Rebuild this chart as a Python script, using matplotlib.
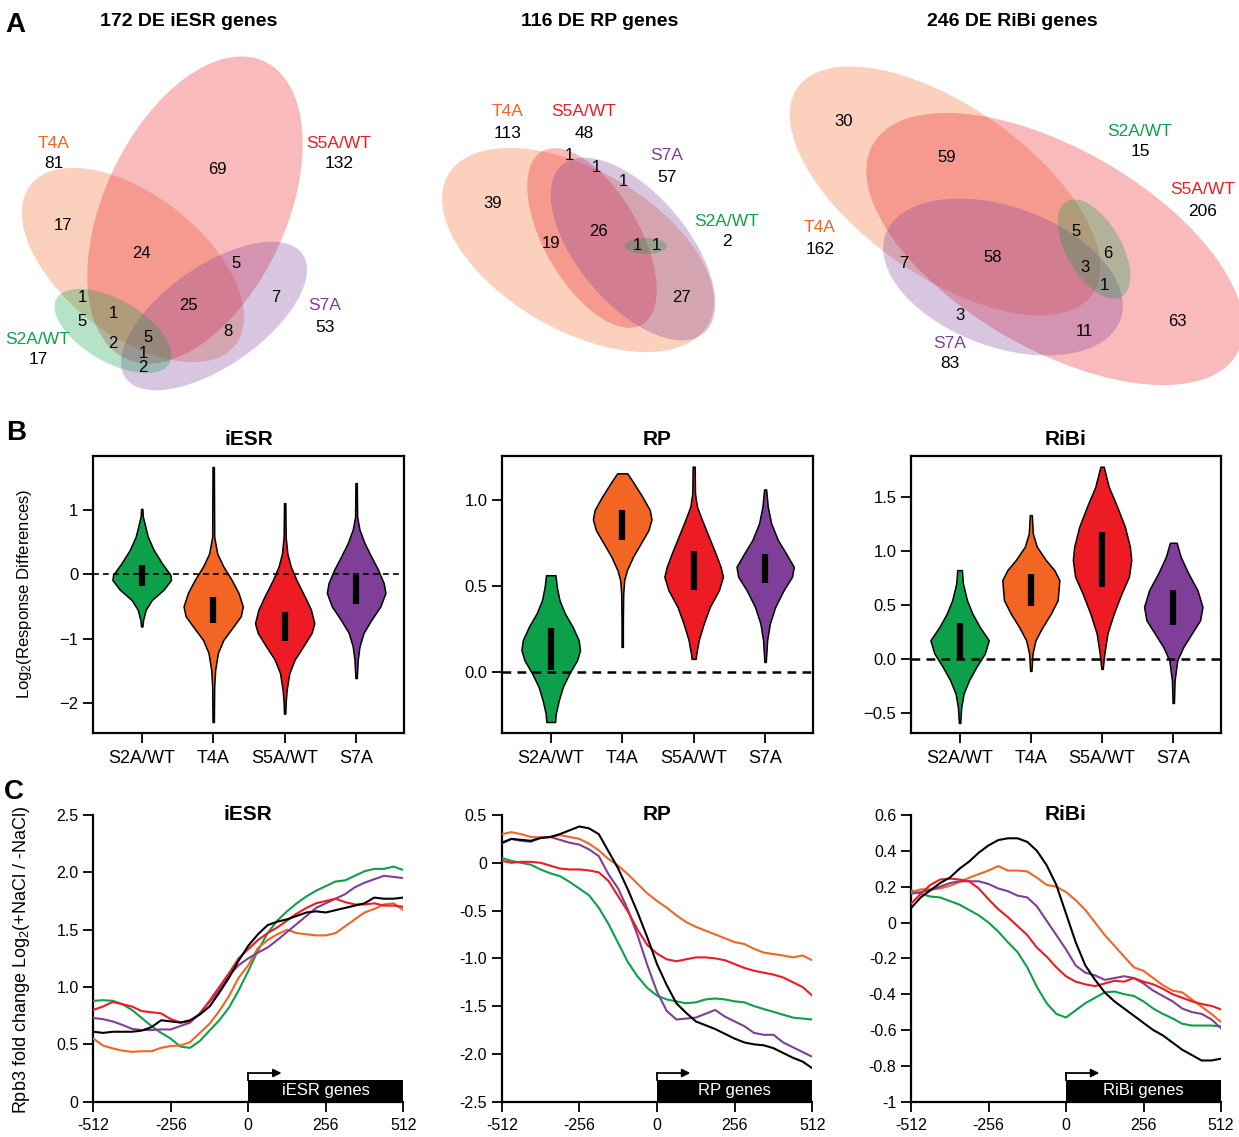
import numpy as np
import matplotlib
matplotlib.use("Agg")
import matplotlib.pyplot as plt
from matplotlib.patches import Ellipse, Rectangle
from matplotlib import transforms

plt.rcParams['font.family'] = ['Liberation Sans', 'DejaVu Sans']
plt.rcParams['mathtext.fontset'] = 'custom'
plt.rcParams['mathtext.rm'] = 'Liberation Sans'
plt.rcParams['mathtext.it'] = 'Liberation Sans:italic'

W, H = 1239, 1137

# ================================
# Data
# ================================
MUTANTS = ["S2A/WT", "T4A", "S5A/WT", "S7A"]
COLORS = {"S2A/WT": "#0DA04A", "T4A": "#F26522", "S5A/WT": "#ED1C24", "S7A": "#7F3F98"}
GENE_SETS = ["iESR", "RP", "RiBi"]

# ---- A: Venn counts
venn_titles = ["172 DE iESR genes", "116 DE RP genes", "246 DE RiBi genes"]
iesr_totals = {"T4A": 81, "S5A/WT": 132, "S7A": 53, "S2A/WT": 17}
rp_totals = {"T4A": 113, "S5A/WT": 48, "S7A": 57, "S2A/WT": 2}
ribi_totals = {"T4A": 162, "S5A/WT": 206, "S7A": 83, "S2A/WT": 15}
iesr_regions = [69, 17, 24, 5, 7, 25, 8, 1, 5, 1, 2, 5, 1, 2]
rp_regions = [1, 1, 1, 39, 19, 26, 1, 1, 27]
ribi_regions = [30, 59, 5, 6, 7, 58, 3, 1, 3, 11, 63]

# ---- B: violin outlines (value, relative half-width) + IQR
iesr_viol_y = {
    "S2A/WT": [1.01, 0.90, 0.79, 0.58, 0.38, 0.17, -0.01, -0.09, -0.24, -0.40, -0.55, -0.71, -0.81],
    "T4A": [1.66, 0.58, 0.32, 0.12, -0.09, -0.29, -0.50, -0.65, -0.81, -1.02, -1.22, -1.48, -1.74, -2.29],
    "S5A/WT": [1.10, 0.58, 0.32, 0.12, -0.09, -0.35, -0.55, -0.76, -0.91, -1.12, -1.32, -1.53, -1.79, -1.99, -2.16],
    "S7A": [1.41, 0.89, 0.69, 0.48, 0.27, 0.07, -0.14, -0.29, -0.50, -0.71, -0.91, -1.12, -1.32, -1.61],
}
iesr_viol_d = {
    "S2A/WT": [2, 3, 8, 18, 35, 60, 85, 87, 65, 30, 12, 4, 2],
    "T4A": [2, 3, 12, 30, 55, 75, 88, 82, 60, 30, 14, 6, 3, 2],
    "S5A/WT": [2, 3, 8, 18, 35, 60, 78, 88, 80, 55, 30, 14, 6, 3, 2],
    "S7A": [2, 3, 10, 25, 45, 65, 82, 87, 72, 45, 22, 10, 5, 2],
}
iesr_iqr = {"S2A/WT": (-0.19, 0.14), "T4A": (-0.75, -0.36), "S5A/WT": (-1.04, -0.59), "S7A": (-0.46, -0.01)}

rp_viol_y = {
    "S2A/WT": [0.562, 0.494, 0.416, 0.339, 0.261, 0.183, 0.125, 0.066, -0.012, -0.089, -0.167, -0.245, -0.294],
    "T4A": [1.156, 1.097, 1.019, 0.942, 0.887, 0.825, 0.747, 0.669, 0.591, 0.533, 0.455, 0.30, 0.144],
    "S5A/WT": [1.195, 1.039, 0.961, 0.883, 0.786, 0.689, 0.611, 0.553, 0.475, 0.377, 0.280, 0.183, 0.105, 0.074],
    "S7A": [1.062, 0.961, 0.864, 0.767, 0.689, 0.611, 0.553, 0.475, 0.377, 0.280, 0.183, 0.056],
}
rp_viol_d = {
    "S2A/WT": [14, 18, 26, 42, 65, 83, 87, 78, 55, 36, 24, 15, 13],
    "T4A": [15, 35, 60, 82, 87, 78, 55, 32, 14, 6, 3, 2, 2],
    "S5A/WT": [3, 4, 10, 25, 45, 65, 80, 87, 75, 48, 30, 15, 8, 6],
    "S7A": [3, 8, 18, 38, 62, 85, 80, 55, 30, 14, 6, 2],
}
rp_iqr = {"S2A/WT": (0.012, 0.257), "T4A": (0.770, 0.942), "S5A/WT": (0.475, 0.704), "S7A": (0.514, 0.683)}

ribi_viol_y = {
    "S2A/WT": [0.822, 0.698, 0.545, 0.422, 0.298, 0.175, 0.052, -0.071, -0.194, -0.317, -0.44, -0.588],
    "T4A": [1.329, 1.16, 1.037, 0.914, 0.822, 0.729, 0.545, 0.422, 0.298, 0.175, 0.052, -0.108],
    "S5A/WT": [1.775, 1.59, 1.406, 1.222, 1.037, 0.914, 0.76, 0.606, 0.422, 0.237, 0.052, -0.089],
    "S7A": [1.074, 0.945, 0.791, 0.637, 0.483, 0.36, 0.237, 0.114, -0.009, -0.194, -0.403],
}
ribi_viol_d = {
    "S2A/WT": [7, 10, 22, 38, 60, 87, 75, 50, 28, 12, 5, 2],
    "T4A": [3, 6, 18, 45, 70, 85, 80, 60, 35, 14, 5, 2],
    "S5A/WT": [5, 20, 45, 68, 83, 87, 80, 58, 35, 16, 7, 2],
    "S7A": [10, 22, 45, 72, 87, 80, 55, 30, 12, 4, 2],
}
ribi_iqr = {"S2A/WT": (0.006, 0.33), "T4A": (0.49, 0.785), "S5A/WT": (0.668, 1.175), "S7A": (0.314, 0.637)}

# ---- C: metagene profiles, one value every 32 bp from -512 to 512
POS = np.arange(-512, 513, 32)
iesr_prof = {
    "black": [0.61, 0.60, 0.61, 0.61, 0.61, 0.62, 0.65, 0.71, 0.70, 0.69, 0.71, 0.76, 0.83, 0.95, 1.08, 1.23, 1.36,
              1.46, 1.54, 1.57, 1.59, 1.62, 1.65, 1.66, 1.65, 1.67, 1.69, 1.71, 1.73, 1.78, 1.77, 1.77, 1.78],
    "green": [0.88, 0.885, 0.88, 0.85, 0.80, 0.73, 0.66, 0.60, 0.55, 0.48, 0.47, 0.53, 0.62, 0.71, 0.82, 0.97, 1.14,
              1.32, 1.47, 1.58, 1.66, 1.73, 1.79, 1.84, 1.88, 1.92, 1.93, 1.97, 2.01, 2.03, 2.03, 2.05, 2.02],
    "red": [0.80, 0.83, 0.87, 0.85, 0.83, 0.79, 0.78, 0.77, 0.72, 0.69, 0.70, 0.77, 0.88, 1.00, 1.12, 1.25, 1.33,
            1.41, 1.47, 1.52, 1.58, 1.64, 1.69, 1.73, 1.75, 1.77, 1.74, 1.72, 1.72, 1.73, 1.71, 1.71, 1.70],
    "purple": [0.73, 0.72, 0.70, 0.67, 0.635, 0.625, 0.625, 0.63, 0.63, 0.66, 0.69, 0.77, 0.87, 0.97, 1.10, 1.19, 1.25,
               1.30, 1.345, 1.41, 1.48, 1.55, 1.62, 1.69, 1.73, 1.77, 1.81, 1.87, 1.91, 1.94, 1.97, 1.96, 1.95],
    "orange": [0.55, 0.49, 0.465, 0.445, 0.435, 0.44, 0.44, 0.47, 0.485, 0.49, 0.52, 0.60, 0.68, 0.79, 0.92, 1.08, 1.19,
               1.34, 1.41, 1.46, 1.50, 1.47, 1.46, 1.45, 1.45, 1.47, 1.53, 1.59, 1.65, 1.68, 1.72, 1.73, 1.67],
}
rp_prof = {
    "black": [0.21, 0.25, 0.24, 0.23, 0.26, 0.27, 0.30, 0.34, 0.38, 0.36, 0.30, 0.12, -0.06, -0.28, -0.52, -0.78, -1.06,
              -1.28, -1.47, -1.57, -1.66, -1.70, -1.74, -1.79, -1.84, -1.88, -1.90, -1.91, -1.94, -1.99, -2.04, -2.08, -2.15],
    "orange": [0.30, 0.32, 0.30, 0.27, 0.265, 0.27, 0.29, 0.27, 0.25, 0.20, 0.13, 0.04, -0.03, -0.12, -0.22, -0.32, -0.40,
               -0.47, -0.55, -0.62, -0.67, -0.71, -0.75, -0.79, -0.83, -0.85, -0.90, -0.94, -0.955, -0.97, -0.99, -0.97, -1.02],
    "purple": [0.20, 0.25, 0.23, 0.22, 0.26, 0.27, 0.24, 0.21, 0.19, 0.14, 0.07, -0.12, -0.27, -0.49, -0.76, -1.07, -1.35,
               -1.55, -1.64, -1.63, -1.62, -1.58, -1.54, -1.61, -1.66, -1.71, -1.78, -1.80, -1.80, -1.88, -1.93, -1.98, -2.03],
    "red": [0.02, 0.00, 0.01, 0.01, 0.00, -0.03, -0.06, -0.07, -0.07, -0.08, -0.10, -0.19, -0.35, -0.51, -0.70, -0.86, -0.95,
            -1.01, -1.03, -1.01, -0.99, -0.99, -1.00, -1.02, -1.06, -1.10, -1.13, -1.15, -1.17, -1.20, -1.25, -1.30, -1.39],
    "green": [0.05, 0.02, 0.00, -0.02, -0.07, -0.11, -0.14, -0.20, -0.27, -0.34, -0.47, -0.64, -0.84, -1.04, -1.19, -1.31, -1.39,
              -1.43, -1.45, -1.47, -1.46, -1.43, -1.42, -1.43, -1.45, -1.46, -1.50, -1.53, -1.56, -1.59, -1.62, -1.63, -1.64],
}
ribi_prof = {
    "black": [0.08, 0.14, 0.18, 0.22, 0.25, 0.30, 0.34, 0.39, 0.43, 0.46, 0.47, 0.47, 0.45, 0.40, 0.32, 0.21, 0.05,
              -0.11, -0.24, -0.32, -0.39, -0.44, -0.48, -0.52, -0.56, -0.60, -0.63, -0.67, -0.71, -0.74, -0.77, -0.77, -0.76],
    "orange": [0.17, 0.185, 0.185, 0.19, 0.205, 0.225, 0.25, 0.27, 0.29, 0.315, 0.29, 0.29, 0.285, 0.25, 0.21, 0.20, 0.17,
               0.125, 0.07, 0.00, -0.07, -0.13, -0.19, -0.25, -0.27, -0.31, -0.35, -0.38, -0.39, -0.43, -0.47, -0.51, -0.555],
    "purple": [0.16, 0.17, 0.18, 0.20, 0.22, 0.23, 0.23, 0.23, 0.215, 0.19, 0.175, 0.15, 0.14, 0.09, 0.01, -0.07, -0.15,
               -0.24, -0.28, -0.295, -0.32, -0.31, -0.30, -0.31, -0.34, -0.38, -0.41, -0.44, -0.48, -0.50, -0.51, -0.54, -0.59],
    "red": [0.105, 0.16, 0.21, 0.24, 0.245, 0.24, 0.23, 0.19, 0.13, 0.075, 0.03, -0.02, -0.07, -0.14, -0.19, -0.25, -0.30,
            -0.33, -0.345, -0.355, -0.34, -0.325, -0.33, -0.31, -0.33, -0.345, -0.37, -0.40, -0.42, -0.44, -0.455, -0.465, -0.485],
    "green": [0.18, 0.16, 0.145, 0.14, 0.12, 0.10, 0.07, 0.04, 0.00, -0.05, -0.11, -0.165, -0.25, -0.36, -0.45, -0.51, -0.53,
              -0.49, -0.45, -0.42, -0.39, -0.385, -0.40, -0.41, -0.44, -0.48, -0.51, -0.535, -0.565, -0.575, -0.575, -0.575, -0.58],
}
LINE_COLORS = {"green": "#0DA04A", "orange": "#F26522", "purple": "#7F3F98", "red": "#ED1C24", "black": "black"}

# tick labels
xticks_c = [-512, -256, 0, 256, 512]
xticklabels_c = ["-512", "-256", "0", "256", "512"]
iesr_yticks_c = [0, 0.5, 1.0, 1.5, 2.0, 2.5]
iesr_ylabels_c = ["0", "0.5", "1.0", "1.5", "2.0", "2.5"]
rp_yticks_c = [-2.5, -2.0, -1.5, -1.0, -0.5, 0, 0.5]
rp_ylabels_c = ["-2.5", "-2.0", "-1.5", "-1.0", "-0.5", "0", "0.5"]
ribi_yticks_c = [-1, -0.8, -0.6, -0.4, -0.2, 0, 0.2, 0.4, 0.6]
ribi_ylabels_c = ["-1", "-0.8", "-0.6", "-0.4", "-0.2", "0", "0.2", "0.4", "0.6"]
iesr_yticks_b = [-2, -1, 0, 1]
iesr_ylabels_b = ["\u22122", "\u22121", "0", "1"]
rp_yticks_b = [0.0, 0.5, 1.0]
rp_ylabels_b = ["0.0", "0.5", "1.0"]
ribi_yticks_b = [-0.5, 0.0, 0.5, 1.0, 1.5]
ribi_ylabels_b = ["\u22120.5", "0.0", "0.5", "1.0", "1.5"]

# ================================
# Layout (pixel geometry of the reference)
# ================================
def fx(x):
    return x / W

def fy(y):
    return 1 - y / H

def box(l, r, t, b):
    return [fx(l), fy(b), (r - l) / W, (b - t) / H]

# ellipse geometry per diagram: (cx, cy, width, height, angle), y pointing down
iesr_shapes = {"T4A": (133, 265, 260, 140, 38), "S5A/WT": (195, 210, 328, 182, -65),
               "S7A": (214, 316, 216, 100, -35), "S2A/WT": (113, 331, 130, 62, 30)}
rp_shapes = {"T4A": (578, 250, 300, 160, 30), "S5A/WT": (592, 238, 200, 95, 60),
             "S7A": (633, 249, 220, 110, 50), "S2A/WT": (646, 246, 42, 16, 0)}
ribi_shapes = {"T4A": (945, 191, 360, 170, 35), "S5A/WT": (1055, 249, 420, 200, 30),
               "S7A": (1003, 277, 250, 140, 20), "S2A/WT": (1094, 249, 110, 55, 60)}
iesr_label_xy = {"T4A": (54, 143), "S5A/WT": (339, 143), "S7A": (325, 306), "S2A/WT": (38, 339)}
rp_label_xy = {"T4A": (508, 112), "S5A/WT": (584, 112), "S7A": (667, 156), "S2A/WT": (727, 221)}
ribi_label_xy = {"T4A": (820, 228), "S5A/WT": (1203, 190), "S7A": (950, 343), "S2A/WT": (1140, 131)}
iesr_region_xy = [(217, 169), (63, 225), (141, 254), (236, 263), (276, 297), (188, 306), (228, 332),
                  (82, 297), (82, 321), (113, 314), (113, 343), (148, 337), (143, 353), (143, 367)]
rp_region_xy = [(569, 156), (596, 168), (623, 182), (493, 203), (551, 244), (598, 232), (637, 246),
                (656, 246), (681, 298)]
ribi_region_xy = [(844, 122), (947, 158), (1076, 231), (1108, 253), (904, 264), (993, 258), (1085, 267),
                  (1104, 286), (960, 316), (1084, 331), (1177, 322)]
title_x = [189, 600, 1012]

fig = plt.figure(figsize=(W / 100, H / 100), dpi=100)

# ================================
# A: Venn diagrams
# ================================
axA = fig.add_axes([0, fy(410), 1, 410 / H])
axA.set_xlim(0, W)
axA.set_ylim(410, 0)
axA.axis('off')

venns = [(iesr_shapes, iesr_totals, iesr_label_xy, iesr_regions, iesr_region_xy),
         (rp_shapes, rp_totals, rp_label_xy, rp_regions, rp_region_xy),
         (ribi_shapes, ribi_totals, ribi_label_xy, ribi_regions, ribi_region_xy)]
for k, (shapes, totals, lab_xy, regions, reg_xy) in enumerate(venns):
    for m in ["T4A", "S5A/WT", "S7A", "S2A/WT"]:
        cx, cy, w, h, ang = shapes[m]
        axA.add_patch(Ellipse((cx, cy), w, h, angle=ang, facecolor=COLORS[m], alpha=0.3, lw=0))
    for m in MUTANTS:
        x, y = lab_xy[m]
        axA.text(x, y, m, color=COLORS[m], fontsize=12.5, ha='center', va='center')
        axA.text(x, y + 21, str(totals[m]), color='black', fontsize=12.5, ha='center', va='center')
    for n, (x, y) in zip(regions, reg_xy):
        axA.text(x, y, str(n), fontsize=12, ha='center', va='center')
    axA.text(title_x[k], 22, venn_titles[k], fontsize=14, fontweight='bold', ha='center', va='center')

# ================================
# B: violins
# ================================
b_boxes = [(93, 404), (502, 813), (911, 1221)]
b_ylims = [(-2.46, 1.83), (-0.358, 1.257), (-0.68, 1.874)]
b_ticks = [(iesr_yticks_b, iesr_ylabels_b), (rp_yticks_b, rp_ylabels_b), (ribi_yticks_b, ribi_ylabels_b)]
b_data = [(iesr_viol_y, iesr_viol_d, iesr_iqr), (rp_viol_y, rp_viol_d, rp_iqr), (ribi_viol_y, ribi_viol_d, ribi_iqr)]
dash_lw = [1.2, 1.8, 1.8]

for k, gs in enumerate(GENE_SETS):
    l, r = b_boxes[k]
    ax = fig.add_axes(box(l, r, 456, 733))
    vy, vd, iqr = b_data[k]
    for i, m in enumerate(MUTANTS):
        y = np.array(vy[m])
        w = np.array(vd[m]) / 87 * 0.41
        ax.fill_betweenx(y, i + 1 - w, i + 1 + w, facecolor=COLORS[m], edgecolor='black', lw=1.1, zorder=2)
        ax.vlines(i + 1, iqr[m][0], iqr[m][1], color='black', lw=4.5, zorder=3)
    ax.axhline(0, color='black', lw=dash_lw[k], ls=(0, (3.5, 2.5)), zorder=4)
    ax.set_xlim(0.318, 4.67)
    ax.set_ylim(*b_ylims[k])
    ax.set_xticks(range(1, 5), MUTANTS, fontsize=13)
    ax.set_yticks(b_ticks[k][0], b_ticks[k][1], fontsize=12)
    for s in ax.spines.values():
        s.set_linewidth(1.6)
    ax.tick_params(direction='out', length=7, width=1.3)
    ax.tick_params(axis='x', pad=5)
    ax.set_title(gs, fontsize=15, fontweight='bold', pad=8)

fig.text(fx(25), fy(594), r"Log$_2$(Response Differences)", rotation=90, fontsize=12,
         ha='center', va='center')

# ================================
# C: metagene profiles
# ================================
c_boxes = [(93.3, 403.3), (501.7, 812.3), (911, 1221)]
c_ylims = [(0, 2.5), (-2.5, 0.5), (-1, 0.6)]
c_ticks = [(iesr_yticks_c, iesr_ylabels_c), (rp_yticks_c, rp_ylabels_c), (ribi_yticks_c, ribi_ylabels_c)]
c_data = [iesr_prof, rp_prof, ribi_prof]
line_order = ["green", "orange", "purple", "red", "black"]

for k, gs in enumerate(GENE_SETS):
    l, r = c_boxes[k]
    ax = fig.add_axes(box(l, r, 815, 1101.7))
    for name in line_order:
        ax.plot(POS, c_data[k][name], color=LINE_COLORS[name], lw=1.5, zorder=3)
    ax.set_xlim(-512, 512)
    ax.set_ylim(*c_ylims[k])
    ax.set_xticks(xticks_c, xticklabels_c, fontsize=11.5)
    ax.set_yticks(c_ticks[k][0], c_ticks[k][1], fontsize=11.5)
    ax.spines['top'].set_visible(False)
    ax.spines['right'].set_visible(False)
    for s in ('left', 'bottom'):
        ax.spines[s].set_linewidth(1.6)
    ax.tick_params(direction='out', length=7, width=1.3)
    ax.tick_params(axis='x', pad=5)
    ax.text(0.5, 1.0, gs, transform=ax.transAxes, fontsize=15, fontweight='bold', ha='center', va='center')

    # gene body box + TSS arrow
    trans = transforms.blended_transform_factory(ax.transData, ax.transAxes)
    ax.add_patch(Rectangle((0, 0), 512, 0.0757, transform=trans, facecolor='black', edgecolor='none',
                           zorder=4, clip_on=False))
    ax.text(256, 0.038, f"{gs} genes", transform=trans, color='white', fontsize=12,
            ha='center', va='center', zorder=5)
    ax.plot([0, 0], [0.0757, 0.10], transform=trans, color='black', lw=1.3, clip_on=False, zorder=5)
    ax.annotate('', xy=(110, 0.10), xytext=(0, 0.10), xycoords=trans, textcoords=trans,
                arrowprops=dict(arrowstyle='-|>', lw=1.3, color='black', mutation_scale=12,
                                shrinkA=0, shrinkB=0), zorder=5)

fig.text(fx(22), fy(960), r"Rpb3 fold change Log$_2$(+NaCl / -NaCl)", rotation=90, fontsize=13,
         ha='center', va='center')

# panel letters
fig.text(fx(15), fy(25), "A", fontsize=20, fontweight='bold', ha='center', va='center')
fig.text(fx(16), fy(433), "B", fontsize=20, fontweight='bold', ha='center', va='center')
fig.text(fx(14), fy(792), "C", fontsize=20, fontweight='bold', ha='center', va='center')

fig.savefig("out.png", dpi=100)
